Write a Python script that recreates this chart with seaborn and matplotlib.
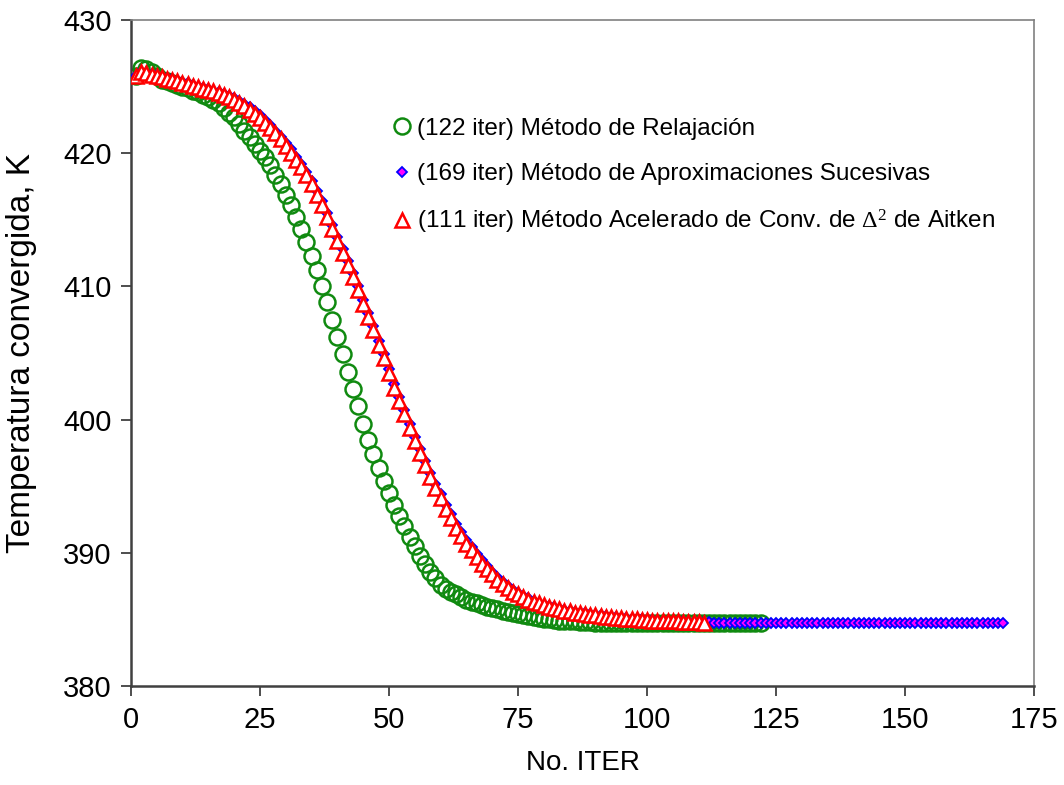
import numpy as np
import pandas as pd
import matplotlib
matplotlib.use("Agg")
import matplotlib.pyplot as plt
import seaborn as sns

# ---- data ----
relajacion = [425.8, 426.4, 426.3, 426.1, 425.8, 425.5, 425.4, 425.3, 425.1, 425.0,
              424.9, 424.7, 424.6, 424.4, 424.2, 424.0, 423.8, 423.4, 423.0, 422.7,
              422.2, 421.7, 421.2, 420.7, 420.2, 419.7, 419.1, 418.4, 417.7, 416.9,
              416.1, 415.2, 414.3, 413.3, 412.3, 411.2, 410.0, 408.8, 407.5, 406.2,
              404.9, 403.6, 402.3, 401.0, 399.7, 398.5, 397.4, 396.4, 395.4, 394.5,
              393.6, 392.8, 392.0, 391.2, 390.5, 389.8, 389.2, 388.6, 388.1, 387.6,
              387.3, 387.1, 386.9, 386.7, 386.5, 386.3, 386.2, 386.05, 385.95, 385.85,
              385.75, 385.65, 385.55, 385.45, 385.4, 385.3, 385.25, 385.2, 385.1, 385.05,
              385.0, 384.95, 384.9, 384.9, 384.85, 384.85, 384.8, 384.8, 384.8, 384.75,
              384.75, 384.75, 384.75, 384.75, 384.75, 384.75, 384.75, 384.75, 384.75, 384.75,
              384.7, 384.7, 384.7, 384.7, 384.7, 384.7, 384.7, 384.7, 384.7, 384.7,
              384.7, 384.7, 384.7, 384.7, 384.7, 384.7, 384.7, 384.7, 384.7, 384.7,
              384.7, 384.7]

sucesivas = [425.8, 426.1, 426.05, 425.95, 425.85, 425.75, 425.65, 425.55, 425.45, 425.35,
             425.25, 425.1, 425.0, 424.9, 424.8, 424.7, 424.6, 424.45, 424.3, 424.15,
             423.95, 423.7, 423.45, 423.15, 422.85, 422.5, 422.1, 421.7, 421.25, 420.8,
             420.3, 419.75, 419.2, 418.6, 417.95, 417.2, 416.4, 415.5, 414.6, 413.7,
             412.8, 411.9, 411.0, 410.0, 409.0, 408.0, 407.0, 405.9, 404.9, 403.8,
             402.7, 401.7, 400.7, 399.7, 398.7, 397.8, 396.9, 396.0, 395.2, 394.4,
             393.6, 392.9, 392.2, 391.6, 391.0, 390.45, 389.95, 389.45, 389.0, 388.6,
             388.2, 387.85, 387.55, 387.25, 387.0, 386.8, 386.6, 386.4, 386.25, 386.1,
             386.0, 385.9, 385.8, 385.7, 385.65, 385.55, 385.5, 385.45, 385.4, 385.35,
             385.3, 385.25, 385.2, 385.15, 385.1, 385.1, 385.05, 385.0, 385.0, 384.95,
             384.95, 384.9, 384.9, 384.9, 384.85, 384.85, 384.85, 384.8, 384.8, 384.8,
             384.8, 384.8, 384.75, 384.75, 384.75, 384.75, 384.75, 384.75, 384.75, 384.75,
             384.75, 384.75, 384.75, 384.75, 384.75, 384.75, 384.75, 384.75, 384.75, 384.75,
             384.7, 384.7, 384.7, 384.7, 384.7, 384.7, 384.7, 384.7, 384.7, 384.7,
             384.7, 384.7, 384.7, 384.7, 384.7, 384.7, 384.7, 384.7, 384.7, 384.7,
             384.7, 384.7, 384.7, 384.7, 384.7, 384.7, 384.7, 384.7, 384.7, 384.7,
             384.7, 384.7, 384.7, 384.7, 384.7, 384.7, 384.7, 384.7, 384.7]

aitken = [425.8, 426.1, 426.0, 425.9, 425.8, 425.7, 425.6, 425.5, 425.4, 425.3,
          425.2, 425.05, 424.95, 424.85, 424.75, 424.65, 424.5, 424.35, 424.2, 424.0,
          423.8, 423.55, 423.25, 422.95, 422.65, 422.3, 421.9, 421.5, 421.05, 420.55,
          420.05, 419.5, 418.95, 418.35, 417.7, 416.9, 416.1, 415.2, 414.3, 413.4,
          412.5, 411.6, 410.7, 409.7, 408.7, 407.7, 406.7, 405.6, 404.6, 403.5,
          402.4, 401.4, 400.4, 399.4, 398.4, 397.5, 396.6, 395.7, 394.9, 394.1,
          393.3, 392.6, 391.9, 391.3, 390.7, 390.2, 389.7, 389.2, 388.8, 388.4,
          388.0, 387.7, 387.4, 387.1, 386.9, 386.7, 386.5, 386.3, 386.2, 386.05,
          385.95, 385.85, 385.75, 385.65, 385.6, 385.5, 385.45, 385.4, 385.35, 385.3,
          385.25, 385.2, 385.15, 385.1, 385.1, 385.05, 385.0, 385.0, 384.95, 384.95,
          384.9, 384.9, 384.9, 384.85, 384.85, 384.85, 384.8, 384.8, 384.8, 384.8, 384.75]

labels = ["(122 iter) Método de Relajación",
          "(169 iter) Método de Aproximaciones Sucesivas",
          r"(111 iter) Método Acelerado de Conv. de $\Delta^2$ de Aitken"]
x_ticks = [0, 25, 50, 75, 100, 125, 150, 175]
y_ticks = [380, 390, 400, 410, 420, 430]

df_g = pd.DataFrame({"iter": np.arange(1, len(relajacion) + 1), "T": relajacion})
df_b = pd.DataFrame({"iter": np.arange(1, len(sucesivas) + 1), "T": sucesivas})
df_r = pd.DataFrame({"iter": np.arange(1, len(aitken) + 1), "T": aitken})

sns.set_style("white")
plt.rcParams["font.family"] = ["Liberation Sans", "DejaVu Sans"]
plt.rcParams["mathtext.fontset"] = "custom"
plt.rcParams["mathtext.rm"] = "Liberation Serif"
plt.rcParams["mathtext.it"] = "Liberation Serif"
plt.rcParams["text.color"] = "black"
plt.rcParams["axes.labelcolor"] = "black"

fig = plt.figure(figsize=(10.64, 7.85), dpi=100)
ax = fig.add_axes([0.123, 0.126, 0.849, 0.8485])

sns.lineplot(data=df_g, x="iter", y="T", ax=ax, linestyle="", marker="o",
             markersize=11.5, markerfacecolor="none", markeredgecolor="#108a10",
             markeredgewidth=1.8, color="#108a10", label=labels[0], zorder=2)
sns.lineplot(data=df_b, x="iter", y="T", ax=ax, linestyle="", marker="D",
             markersize=5.5, markerfacecolor="#ff00ff", markeredgecolor="#0000ff",
             markeredgewidth=1.3, color="#0000ff", label=labels[1], zorder=3)
sns.lineplot(data=df_r, x="iter", y="T", ax=ax, linestyle="", marker="^",
             markersize=10, markerfacecolor="white", markeredgecolor="#ff0000",
             markeredgewidth=1.8, color="#ff0000", label=labels[2], zorder=4)

ax.set_xlim(0, 175)
ax.set_ylim(380, 430)
ax.set_xticks(x_ticks)
ax.set_yticks(y_ticks)
ax.tick_params(axis="both", direction="out", length=7, width=1.3, color="#404040",
               labelsize=21, labelcolor="black", pad=7, bottom=True, left=True)
ax.set_xlabel("No. ITER", fontsize=20, labelpad=12)
ax.set_ylabel("Temperatura convergida, K", fontsize=24)
ax.yaxis.set_label_coords(-0.104, 0.5)

for side in ["left", "bottom"]:
    ax.spines[side].set_color("#404040")
    ax.spines[side].set_linewidth(1.8)
for side in ["right", "top"]:
    ax.spines[side].set_color("#808080")
    ax.spines[side].set_linewidth(1.2)

leg = ax.legend(loc="upper left", bbox_to_anchor=(0.289, 0.853), frameon=False,
                fontsize=17.5, handlelength=0.8, handletextpad=0.25,
                labelspacing=0.95, borderpad=0, borderaxespad=0, markerscale=1.0)

fig.savefig("out.png", dpi=100)
